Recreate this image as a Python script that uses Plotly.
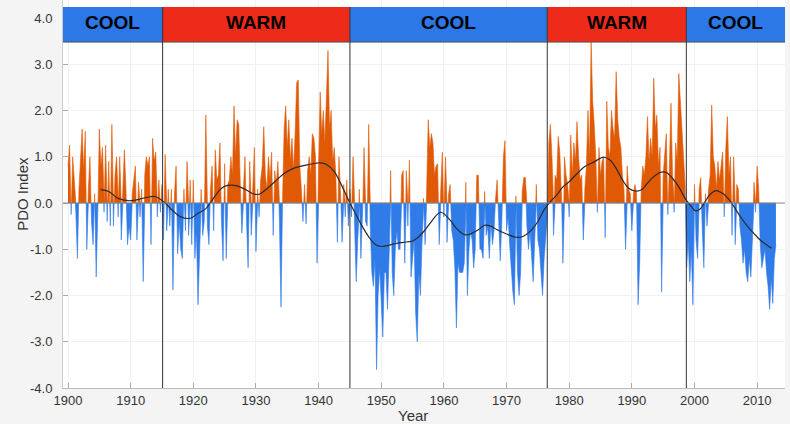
import numpy as np
import plotly.graph_objects as go

# Quarterly PDO index values (4 per year, starting 1900.0)
pdo_1900s = [0.8, 1.25, -0.25, 1.0,  0.4, -0.2, -1.2, 0.3,  1.0, 1.6, 0.7, 1.55,  -1.0, 0.3, 1.0, -0.4,
             -0.9, 0.2, -1.6, -0.3,  1.6, 0.8, 1.2, -0.2,  1.25, -0.4, 0.9, -0.5,  1.7, -0.5, 0.6, 1.0,
             -0.3, 1.0, -0.8, 0.4,  1.15, 0.3, -0.9, -0.5]
pdo_1910s = [-0.8, 0.2, 0.5, 0.8,  -0.8, 0.45, -0.3, 0.3,  -1.7, 0.6, 1.0, 0.8,  1.0, -0.9, 1.4, 0.9,
             1.1, -0.3, 0.5, -0.2,  0.4, -0.8, 1.05, -0.6,  0.3, -0.5, 0.3, -1.88,  0.2, 0.8, -1.1, -0.4,
             -1.0, -1.2, 0.3, -0.6,  0.9, -0.7, 0.5, -0.9]
pdo_1920s = [0.5, -1.2, -0.6, -2.2,  -1.0, 0.3, -0.7, -0.4,  1.9, -0.5, -0.9, 0.3,  0.8, -0.6, 1.15, 0.5,
             0.6, 1.3, -0.4, -1.25,  0.85, -1.2, 0.4, 0.5,  1.0, 0.6, 2.1, 1.0,  1.8, 1.7, 0.4, -0.65,
             0.3, 1.0, -0.4, -1.4,  0.9, -0.7, 0.5, 1.2]
pdo_1930s = [-1.05, 0.3, -0.3, 0.5,  0.8, 1.65, 0.6, 0.3,  1.0, 0.5, 1.1, -0.7,  0.7, 0.4, 0.9, -0.4,
             -2.25, 0.1, 1.6, 2.1,  1.2, 1.8, 0.9, 1.4,  0.7, 1.5, 2.6, 2.66,  0.8, 0.3, -0.4, 0.4,
             -0.45, 0.7, 1.0, 0.6,  1.5, 1.4, 1.0, -1.3]
pdo_1940s = [0.8, 2.4, 1.5, 2.0,  1.3, 2.5, 3.3, 1.6,  2.0, 0.9, 1.2, 0.6,  -0.85, 1.0, 0.3, -0.85,
             0.4, -0.3, 0.5, -0.5,  0.3, -0.3, 1.0, -0.5,  -1.7, -0.8, 0.3, -1.2,  -0.5, 1.2, -0.4, -0.5,
             1.7, -0.5, -1.5, -1.8,  -1.2, -3.6, -2.0, -1.4]
pdo_1950s = [-2.2, -2.9, -1.5, -1.5,  -2.3, -1.2, 0.7, -1.5,  -2.0, -1.0, -0.6, -1.0,  -1.0, 0.6, 0.7, -1.3,
             0.7, -0.5, 0.93, -1.6,  -1.2, -0.8, -2.4, -3.0,  -1.5, -2.0, -0.9, 0.1,  -0.9, 0.3, 1.8, 1.2,
             1.5, 1.3, 0.6, 0.8,  0.85, -0.9, 0.3, 1.1]
pdo_1960s = [-0.3, 1.0, -0.85, 0.2,  0.4, -0.6, -0.8, -1.4,  -2.7, -1.3, -1.5, -1.5,  -1.5, -1.3, 0.45, -2.0,
             -1.0, -0.6, -0.8, -1.4,  -1.0, 0.6, 0.6, -1.0,  -1.0, -1.2, 0.25, -0.7,  -0.5, -1.2, -0.4, -0.9,
             -0.6, 0.1, 0.5, -0.4,  -1.25, -0.4, 1.0, 1.35]
pdo_1970s = [-0.6, -0.3, -0.9, -1.5,  -1.9, -2.2, 0.15, -1.5,  -2.0, -1.5, 0.25, 0.55,  0.55, -0.5, -1.0, -0.6,
             -1.2, -1.7, -0.8, 0.4,  -0.8, -1.0, -1.6, -2.0,  -1.2, -0.8, -0.3, 1.3,  1.7, 1.0, -0.7, 0.6,
             0.5, 1.44, 1.1, 0.4,  -1.3, 1.0, 0.6, 0.4]
pdo_1980s = [-0.3, 1.47, 0.6, 1.3,  0.9, 1.76, 1.0, 0.5,  0.6, -0.8, 0.3, 0.8,  2.0, 1.0, 3.5, 2.2,
             1.7, 1.0, -0.2, 1.2,  0.6, 0.9, 1.0, -0.75,  2.2, 1.2, 1.0, 2.0,  1.6, 1.4, 2.84, 1.8,
             1.4, 1.2, 0.6, 0.3,  -1.0, 0.8, 0.3, 0.2]
pdo_1990s = [-0.6, 0.2, 0.4, 0.2,  -2.2, -1.3, 0.3, 0.8,  0.6, 1.0, 1.87, 0.9,  1.4, 1.0, 2.7, 1.6,
             1.9, 0.8, 1.2, -1.92,  0.6, 1.1, 1.5, -0.25,  0.8, 2.16, 0.6, -0.2,  1.3, 0.9, 2.8, 2.2,
             1.5, 1.1, 0.4, -1.4,  -0.8, -1.7, -1.0, -2.2]
pdo_2000s = [0.4, -0.8, -1.2, 0.3,  0.55, -0.6, -1.4, 0.2,  -0.5, 0.3, 0.6, 2.12,  1.0, 0.8, 0.3, 0.9,
             0.5, 0.8, 1.1, -0.3,  1.2, 1.87, 0.6, 1.0,  -0.7, 1.0, -0.9, 0.4,  0.3, -0.5, -0.8, -1.3,
             -1.0, -1.5, -1.7, -1.2,  -1.6, -0.8, 0.45, -0.2]
pdo_2010s = [0.8, 0.3, -0.9, -1.4,  -1.2, -1.0, -1.5, -1.8,  -2.3, -1.6, -2.17, -1.2,  -0.9]

# Smoothed curve
smooth_year = [1905.2, 1906.5, 1908, 1909.6, 1910.6, 1912.5, 1913.9, 1915.5, 1916.6, 1918, 1919.5,
               1920.8, 1922, 1923, 1924.5, 1925.5, 1927, 1928.5, 1929.5, 1930.5, 1931.5, 1933, 1934.5,
               1936, 1938, 1939.5, 1940.3, 1941.2, 1942.5, 1943.5, 1944.5, 1945, 1946, 1947, 1948, 1949,
               1950, 1951, 1952.5, 1953.5, 1955, 1956, 1957, 1958, 1959.5, 1961, 1962, 1963.2, 1964,
               1965.5, 1966.5, 1967.5, 1968.5, 1970, 1971.5, 1972.5, 1974, 1975, 1976, 1977, 1978, 1979,
               1980, 1981, 1982.5, 1984, 1985, 1985.6, 1986.5, 1987.5, 1988.5, 1989.5, 1990.5, 1991.5,
               1992.5, 1993.5, 1994.5, 1995.5, 1996.5, 1997.5, 1998.5, 1999.5, 2000.2, 2001, 2001.7,
               2002.5, 2003.5, 2004.5, 2005.5, 2006.5, 2007.5, 2008.5, 2009.5, 2010.5, 2012.3]
smooth_val = [0.29, 0.25, 0.1, 0.05, 0.06, 0.12, 0.14, 0.0, -0.15, -0.3, -0.33,
              -0.22, -0.12, 0.06, 0.32, 0.38, 0.37, 0.28, 0.2, 0.19, 0.28, 0.46, 0.64,
              0.75, 0.82, 0.86, 0.87, 0.84, 0.68, 0.43, 0.14, 0.0, -0.26, -0.51, -0.73, -0.89,
              -0.94, -0.92, -0.87, -0.85, -0.82, -0.73, -0.58, -0.4, -0.2, -0.37, -0.55, -0.68, -0.68,
              -0.58, -0.48, -0.5, -0.58, -0.67, -0.74, -0.73, -0.58, -0.4, -0.15, 0.03, 0.17, 0.35,
              0.46, 0.6, 0.79, 0.89, 0.97, 0.99, 0.93, 0.75, 0.5, 0.32, 0.26, 0.28,
              0.43, 0.57, 0.66, 0.66, 0.53, 0.35, 0.1, -0.08, -0.17, -0.12, 0.03,
              0.19, 0.27, 0.21, 0.08, -0.12, -0.33, -0.51, -0.66, -0.8, -0.98]

# Regimes
regime_labels = ["COOL", "WARM", "COOL", "WARM", "COOL"]
regime_bounds = [1899.2, 1915.1, 1945.0, 1976.5, 1998.7, 2014.45]
regime_colors = ["#2C78E6", "#EE2A1A", "#2C78E6", "#EE2A1A", "#2C78E6"]

x_ticks = [1900, 1910, 1920, 1930, 1940, 1950, 1960, 1970, 1980, 1990, 2000, 2010]
y_ticks = [-4.0, -3.0, -2.0, -1.0, 0.0, 1.0, 2.0, 3.0, 4.0]

ORANGE = "#E05A06"
BLUE = "#2F7BE8"
FONT = "Liberation Sans, Arial, sans-serif"

pdo = pdo_1900s + pdo_1910s + pdo_1920s + pdo_1930s + pdo_1940s + pdo_1950s + \
      pdo_1960s + pdo_1970s + pdo_1980s + pdo_1990s + pdo_2000s + pdo_2010s
v = np.array(pdo, dtype=float)
t = 1900 + np.arange(len(v)) / 4.0

# split at zero crossings so the positive / negative fills meet cleanly
tt, vv = [t[0]], [v[0]]
for i in range(1, len(v)):
    a, b = v[i - 1], v[i]
    if a * b < 0:
        tc = t[i - 1] + (t[i] - t[i - 1]) * a / (a - b)
        tt.append(tc); vv.append(0.0)
    tt.append(t[i]); vv.append(b)
tt = np.array(tt); vv = np.array(vv)
pos = np.where(vv > 0, vv, 0.0)
neg = np.where(vv < 0, vv, 0.0)

fig = go.Figure()
fig.add_trace(go.Scatter(x=tt, y=pos, mode="lines", fill="tozeroy", fillcolor=ORANGE,
                         line=dict(color=ORANGE, width=0.6), hoverinfo="skip", showlegend=False))
fig.add_trace(go.Scatter(x=tt, y=neg, mode="lines", fill="tozeroy", fillcolor=BLUE,
                         line=dict(color=BLUE, width=0.6), hoverinfo="skip", showlegend=False))
fig.add_trace(go.Scatter(x=smooth_year, y=smooth_val, mode="lines",
                         line=dict(color="#2a2a2a", width=1.2, shape="spline"),
                         hoverinfo="skip", showlegend=False))

BAND_LO, BAND_HI = 3.48, 4.24
shapes = []
for i, lab in enumerate(regime_labels):
    shapes.append(dict(type="rect", xref="x", yref="y", x0=regime_bounds[i], x1=regime_bounds[i + 1],
                       y0=BAND_LO, y1=BAND_HI, fillcolor=regime_colors[i], line=dict(width=0),
                       layer="above"))
shapes.append(dict(type="line", xref="paper", yref="y", x0=0, x1=1, y0=BAND_LO, y1=BAND_LO,
                   line=dict(color="#555555", width=1), layer="above"))
for xb in regime_bounds[1:-1]:
    shapes.append(dict(type="line", xref="x", yref="y", x0=xb, x1=xb, y0=-4.0, y1=BAND_HI,
                       line=dict(color="#333333", width=1), layer="above"))
shapes.append(dict(type="line", xref="paper", yref="y", x0=0, x1=1, y0=0, y1=0,
                   line=dict(color="#8a8a8a", width=1), layer="above"))

annotations = []
for i, lab in enumerate(regime_labels):
    annotations.append(dict(x=(regime_bounds[i] + regime_bounds[i + 1]) / 2, y=3.9, xref="x", yref="y",
                            text="<b>%s</b>" % lab, showarrow=False,
                            font=dict(family=FONT, size=19, color="#000000")))
annotations.append(dict(x=0.485, y=-0.072, xref="paper", yref="paper", text="Year", showarrow=False,
                        xanchor="center", yanchor="middle",
                        font=dict(family=FONT, size=15, color="#333333")))
annotations.append(dict(x=-0.057, y=0.5, xref="paper", yref="paper", text="PDO Index", showarrow=False,
                        xanchor="center", yanchor="middle", textangle=-90,
                        font=dict(family=FONT, size=15, color="#333333")))

fig.update_layout(
    width=790, height=424, autosize=False,
    margin=dict(l=63, r=5, t=0, b=36),
    paper_bgcolor="#f4f4f4", plot_bgcolor="#ffffff",
    shapes=shapes, annotations=annotations,
    xaxis=dict(range=[1899.2, 2014.45], tickvals=x_ticks, ticktext=[str(x) for x in x_ticks],
               ticks="inside", ticklen=5, tickcolor="#aaaaaa", showgrid=True, gridcolor="#f1f1f1",
               showline=True, linecolor="#bbbbbb", zeroline=False,
               tickfont=dict(family=FONT, size=13, color="#333333")),
    yaxis=dict(range=[-4.0, 4.39], tickvals=y_ticks, ticktext=["%.1f" % y for y in y_ticks],
               ticks="inside", ticklen=5, tickcolor="#aaaaaa", showgrid=True, gridcolor="#f1f1f1",
               showline=True, linecolor="#cccccc", zeroline=False, ticklabelstandoff=7,
               tickfont=dict(family=FONT, size=13, color="#333333")),
)

fig.write_html("out.html")
